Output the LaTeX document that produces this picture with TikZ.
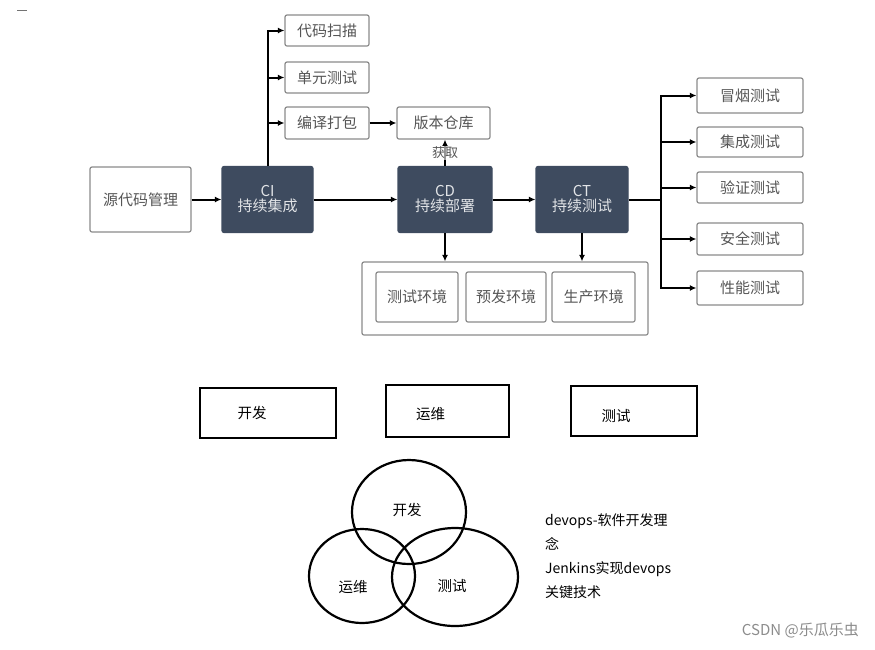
\documentclass[tikz,border=0pt]{standalone}
\usepackage{fontspec}
\setmainfont{Noto Sans CJK SC}
\usetikzlibrary{arrows.meta,calc}

\definecolor{slate}{HTML}{3E4B5F}
\definecolor{boxgray}{HTML}{8A8A8A}
\definecolor{txtgray}{HTML}{555555}

\begin{document}
\begin{tikzpicture}[
  x=1pt,
  y=-1pt,
  >=Latex,
  line/.style={draw=black,line width=2pt},
  arrow/.style={line,-{Latex[length=6.5pt,width=6pt]}},
  block/.style={draw=boxgray,line width=1.2pt,rounded corners=2pt,align=center,
    text=txtgray,font=\fontsize{15}{18}\selectfont,inner sep=0pt},
  darkblock/.style={block,draw=slate,fill=slate,text=white!85!slate,
    minimum width=92pt,minimum height=66pt},
  subblock/.style={block,minimum width=84pt,minimum height=31pt},
  testblock/.style={block,minimum width=106pt,minimum height=32pt},
  envblock/.style={block,minimum height=50pt},
  rolebox/.style={draw=black,line width=2.6pt,inner sep=0pt},
  rolelabel/.style={font=\fontsize{14.5}{17}\selectfont},
  venn/.style={draw=black,line width=2.2pt}
]
\useasboundingbox (0,0) rectangle (875,649);

% stray mark in the top left corner
\draw[black!55,line width=1pt] (17,10) -- (27,10);

% Pipeline: source -> CI -> CD -> CT
\node[block,minimum width=101pt,minimum height=65pt] (src) at (140.5,199.5) {源代码管理};
\node[darkblock,minimum width=91pt] (ci) at (267.5,199.5) {CI\\[-3pt]持续集成};
\node[darkblock,minimum width=94pt] (cd) at (445,199.5) {CD\\[-3pt]持续部署};
\node[darkblock] (ct) at (582,199.5) {CT\\[-3pt]持续测试};

% CI branches
\node[subblock] (scan) at (327,30.5) {代码扫描};
\node[subblock] (unit) at (327,77.5) {单元测试};
\node[subblock,minimum height=32pt] (build) at (327,123) {编译打包};
\node[block,minimum width=93pt,minimum height=32pt] (repo) at (443.5,123) {版本仓库};

% Environments under CD and CT
\node[block,minimum width=286pt,minimum height=73pt] (env) at (505,298.5) {};
\node[envblock,minimum width=82pt] (envtest) at (417,297) {测试环境};
\node[envblock,minimum width=80pt] (envpre) at (506,297) {预发环境};
\node[envblock,minimum width=83pt] (envprod) at (593.5,297) {生产环境};

% CT branches
\node[testblock,minimum height=35pt] (smoke) at (750,95.5) {冒烟测试};
\node[testblock,minimum height=30pt] (integ) at (750,142) {集成测试};
\node[testblock,minimum height=31pt] (verify) at (750,187.5) {验证测试};
\node[testblock] (secure) at (750,239) {安全测试};
\node[testblock,minimum height=34pt] (perf) at (750,288) {性能测试};

% connectors
\draw[arrow] (src.east) -- (ci.west);
\draw[arrow] (ci.east) -- (cd.west);
\draw[arrow] (cd.east) -- (ct.west);
\draw[arrow] (ci.north) |- (scan.west);
\draw[arrow] (ci.north) |- (unit.west);
\draw[arrow] (ci.north) |- (build.west);
\draw[arrow] (build.east) -- (repo.west);
\draw[arrow] (cd.north) -- node[fill=white,fill opacity=0.6,text opacity=1,inner sep=1pt,
  text=txtgray,font=\fontsize{13}{15}\selectfont] (fetch) {获取} (cd.north |- repo.south);
\draw[arrow] (cd.south) -- (cd.south |- env.north);
\draw[arrow] (ct.south) -- (ct.south |- env.north);

\coordinate (ctfork) at (661,199.5);
\draw[line] (ct.east) -- (ctfork);
\foreach \t in {smoke,integ,verify,secure,perf}
  \draw[arrow] (ctfork) |- (\t.west);

% Roles
\node[rolebox,minimum width=136pt,minimum height=50pt] (devbox) at (268,413) {};
\node[rolebox,minimum width=123pt,minimum height=52pt] (opsbox) at (447.5,411) {};
\node[rolebox,minimum width=126pt,minimum height=50pt] (qabox) at (634,411) {};
\node[rolelabel] (devtxt) at ([xshift=-16pt]devbox.center) {开发};
\node[rolelabel] (opstxt) at ([xshift=-17pt,yshift=-3pt]opsbox.center) {运维};
\node[rolelabel] (qatxt) at ([xshift=-18pt,yshift=-5pt]qabox.center) {测试};

% Venn diagram
\draw[venn] (409,512) ellipse [x radius=57pt,y radius=52pt];
\draw[venn] (362,576) ellipse [x radius=53pt,y radius=47pt];
\draw[venn] (455,577) ellipse [x radius=63pt,y radius=49pt];
\node[rolelabel] (venndev) at (407,510) {开发};
\node[rolelabel] (vennops) at (353,587) {运维};
\node[rolelabel] (vennqa) at (452,586) {测试};

\node[anchor=west,align=left,font=\fontsize{14}{24}\selectfont,inner sep=0pt]
  (note) at (545,556) {devops-软件开发理\\念\\Jenkins实现devops\\关键技术};

% watermark
\node[anchor=east,text=black!45,font=\fontsize{15}{18}\selectfont,inner sep=0pt]
  (mark) at (859,630) {CSDN @乐瓜乐虫};
\end{tikzpicture}
\end{document}
